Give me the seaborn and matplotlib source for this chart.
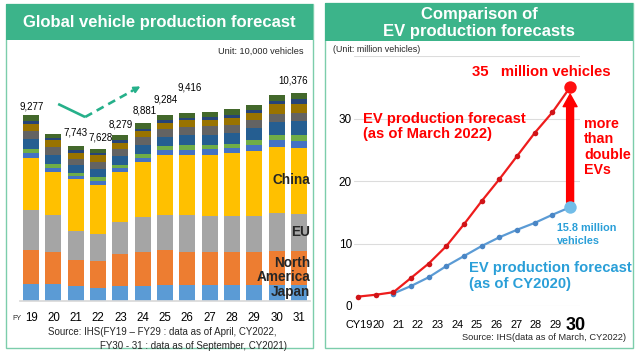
import numpy as np
import pandas as pd
import matplotlib
matplotlib.use("Agg")
import matplotlib.pyplot as plt
import seaborn as sns
from matplotlib.patches import Rectangle

# Left chart: global vehicle production (unit: 10,000 vehicles), stacked by region
fy_labels = ["19", "20", "21", "22", "23", "24", "25", "26", "27", "28", "29", "30", "31"]
japan = [867, 833, 733, 667, 750, 750, 783, 783, 783, 783, 783, 783, 783]
north_america = [1700, 1617, 1300, 1333, 1583, 1700, 1750, 1667, 1667, 1667, 1667, 1700, 1700]
eu = [1967, 1833, 1450, 1333, 1617, 1750, 1783, 1833, 1783, 1783, 1800, 1933, 1883]
china = [2617, 2167, 2600, 2483, 2500, 2750, 2967, 3033, 3083, 3167, 3250, 3283, 3300]
other1 = [250, 200, 150, 183, 200, 200, 250, 250, 267, 250, 317, 333, 333]
other2 = [217, 217, 167, 200, 167, 217, 200, 217, 233, 217, 250, 250, 283]
other3 = [467, 417, 383, 417, 417, 450, 467, 500, 500, 533, 583, 667, 700]
other4 = [400, 417, 333, 333, 383, 383, 417, 417, 417, 383, 383, 417, 433]
other5 = [383, 333, 283, 333, 300, 283, 283, 333, 333, 367, 383, 467, 450]
other6 = [133, 117, 133, 117, 117, 133, 133, 117, 133, 133, 117, 150, 217]
other7 = [283, 217, 200, 217, 250, 283, 250, 267, 250, 300, 283, 333, 300]
total_labels = ["9,277", "", "7,743", "7,628", "8,279", "8,881", "9,284", "9,416",
                "", "", "", "", "10,376"]

# Right chart: EV production forecasts (million vehicles)
cy_labels = ["CY19", "20", "21", "22", "23", "24", "25", "26", "27", "28", "29", "30"]
ev_march2022 = [1.5, 1.8, 2.2, 4.5, 6.8, 9.6, 13.1, 16.8, 20.3, 24.0, 27.7, 31.0, 35.0]
ev_cy2020 = [np.nan, np.nan, 2.0, 3.2, 4.6, 6.4, 8.0, 9.6, 11.0, 12.2, 13.3, 14.6, 15.8]

layers = [japan, north_america, eu, china, other1, other2, other3, other4, other5, other6, other7]
layer_colors = ["#5b9bd5", "#ed7d31", "#a5a5a5", "#ffc000", "#4472c4", "#70ad47",
                "#255e91", "#636363", "#997300", "#264478", "#43682b"]
label_lift = [6, 0, 11, 8, 8, 10, 13, 22, 0, 0, 0, 0, 10]  # px above bar top
label_shift = [0, 0, 0, 3, 0, 2, 1, 2, 0, 0, 0, 0, -6]    # px sideways

GREEN = "#3cb48a"
RED = "#ee1c1c"
BLUE_LINE = "#5b9bd5"
BLUE_TXT = "#2a9fd8"

sns.set_theme(style="white")
plt.rcParams["font.family"] = ["Liberation Sans", "DejaVu Sans"]

W, H = 640, 352
fig = plt.figure(figsize=(6.4, 3.52), dpi=100)
fig.patch.set_facecolor("white")


def fx(px):
    return px / W


def fy(py):
    return 1 - py / H


def box(x0, y0, x1, y1, **kw):
    fig.add_artist(Rectangle((fx(x0), fy(y1)), fx(x1 - x0), (y1 - y0) / H,
                             transform=fig.transFigure, **kw))


# panel frames and headers
box(6, 4, 313, 348, fill=False, edgecolor="#7ccdab", lw=1.0)
box(6, 4, 313, 40, facecolor=GREEN, edgecolor="none")
box(325, 3, 633, 348, fill=False, edgecolor="#7ccdab", lw=1.0)
box(325, 3, 633, 41, facecolor=GREEN, edgecolor="none")

fig.text(fx(159.5), fy(22), "Global vehicle production forecast", color="white",
         fontsize=12, fontweight="bold", ha="center", va="center")
fig.text(fx(479), fy(23), "Comparison of\nEV production forecasts", color="white",
         fontsize=12, fontweight="bold", ha="center", va="center", linespacing=1.15)

# ---------------- left: stacked bars ----------------
ax1 = fig.add_axes([fx(20), 51 / H, 290 / W, 241 / H])
cum = np.cumsum(np.array(layers), axis=0)
for i in range(len(layers) - 1, -1, -1):
    sns.barplot(x=fy_labels, y=cum[i], color=layer_colors[i], width=0.72,
                saturation=1, linewidth=0, ax=ax1)

ax1.set_xlim(-0.5, 12.5)
ax1.set_ylim(0, 12050)
ax1.set_yticks([])
ax1.set_xlabel("")
ax1.set_ylabel("")
for s in ["top", "right", "left"]:
    ax1.spines[s].set_visible(False)
ax1.spines["bottom"].set_color("#d9d9d9")
ax1.tick_params(axis="x", length=0, pad=12.2, labelsize=8.3, labelcolor="black")
for lbl in ax1.get_xticklabels():
    lbl.set_va("center")

for i, txt in enumerate(total_labels):
    if txt:
        ax1.annotate(txt, (i, cum[-1][i]),
                     xytext=(label_shift[i] * 0.72, 2 + label_lift[i] * 0.72),
                     textcoords="offset points", ha="center", va="center",
                     fontsize=7, color="black")

# trend arrow (dip then rise)
ax1.plot([1.21, 2.42], [9850, 9200], color="#26b08a", lw=1.9, solid_capstyle="butt")
ax1.plot([2.42, 4.55], [9200, 10520], color="#26b08a", lw=1.9, ls=(0, (3, 2)))
ax1.annotate("", xy=(4.9, 10730), xytext=(4.5, 10490),
             arrowprops=dict(arrowstyle="-|>", color="#26b08a", lw=1.5,
                             mutation_scale=9, shrinkA=0, shrinkB=0))

fig.text(fx(304), fy(51), "Unit: 10,000 vehicles", fontsize=6.6, ha="right", va="center")
for txt, py in [("China", 180), ("EU", 232), ("North\nAmerica", 270), ("Japan", 292)]:
    fig.text(fx(310), fy(py), txt, fontsize=9.8, fontweight="bold", ha="right",
             va="center", linespacing=0.95)
fig.text(fx(12), fy(319), "FY", fontsize=5, ha="left", va="center")
fig.text(fx(48), fy(332), "Source: IHS(FY19 \u2013 FY29 : data as of April, CY2022,",
         fontsize=7, ha="left", va="center")
fig.text(fx(100), fy(346), "FY30 - 31 : data as of September, CY2021)",
         fontsize=7, ha="left", va="center")

# ---------------- right: EV lines ----------------
ax2 = fig.add_axes([fx(354), 46 / H, 226 / W, 250 / H])
ev_df = pd.DataFrame({"idx": np.arange(len(ev_march2022)),
                      "mar2022": ev_march2022, "cy2020": ev_cy2020})
sns.lineplot(data=ev_df, x="idx", y="cy2020", color=BLUE_LINE, lw=1.6, marker="o",
             markersize=4, markeredgewidth=0, markerfacecolor="#4a86c5", ax=ax2)
sns.lineplot(data=ev_df, x="idx", y="mar2022", color=RED, lw=1.6, marker="o",
             markersize=4, markeredgewidth=0, markerfacecolor="#d01418", ax=ax2)
ax2.scatter(ev_df["idx"].iloc[-1], ev_df["mar2022"].iloc[-1], s=80, color="#ff1010",
            zorder=5, linewidths=0)
ax2.scatter(ev_df["idx"].iloc[-1], ev_df["cy2020"].iloc[-1], s=80, color="#72bde8",
            zorder=5, linewidths=0)

ax2.set_xlim(-0.23, 12.56)
ax2.set_ylim(0, 40)
ax2.set_yticks([0, 10, 20, 30, 40], ["0", "10", "20", "30", ""])
ax2.set_xticks(np.linspace(0.05, 12.3, len(cy_labels)), cy_labels)
ax2.set_xlabel("")
ax2.set_ylabel("")
ax2.grid(axis="y", color="#dcdcdc", lw=0.8)
ax2.set_axisbelow(True)
for s in ax2.spines.values():
    s.set_visible(False)
ax2.tick_params(axis="y", length=0, pad=1.5, labelsize=8.5, labelcolor="black")
ax2.tick_params(axis="x", length=0, pad=13.7, labelsize=7.9, labelcolor="black")
for lbl in ax2.get_xticklabels():
    lbl.set_va("center")
last = ax2.get_xticklabels()[-1]
last.set_fontsize(13)
last.set_fontweight("bold")

# doubling arrow
ax2.annotate("", xy=(12, 33.9), xytext=(12, 16.6),
             arrowprops=dict(arrowstyle="simple,head_length=0.9,head_width=1.0,tail_width=0.5",
                             color="#ff0000", mutation_scale=10, shrinkA=0, shrinkB=0),
             zorder=4)

fig.text(fx(333), fy(50), "(Unit: million vehicles)", fontsize=6.4, ha="left", va="center")
fig.text(fx(472), fy(72), "35   million vehicles", color="#ff0000", fontsize=10.7,
         fontweight="bold", ha="left", va="center")
fig.text(fx(363), fy(126.5), "EV production forecast\n(as of March 2022)", color="#ff0000",
         fontsize=10.6, fontweight="bold", ha="left", va="center", linespacing=1.15)
fig.text(fx(584), fy(147), "more\nthan\ndouble\nEVs", color="#ff0000", fontsize=10.3,
         fontweight="bold", ha="left", va="center", linespacing=1.15)
fig.text(fx(557), fy(234.5), "15.8 million\nvehicles", color=BLUE_TXT, fontsize=7.8,
         fontweight="bold", ha="left", va="center", linespacing=1.3)
fig.text(fx(469), fy(276), "EV production forecast\n(as of CY2020)", color=BLUE_TXT,
         fontsize=10.6, fontweight="bold", ha="left", va="center", linespacing=1.2)
fig.text(fx(626), fy(338), "Source: IHS(data as of March, CY2022)", fontsize=6.7,
         ha="right", va="center")

fig.savefig("out.png", dpi=100)
